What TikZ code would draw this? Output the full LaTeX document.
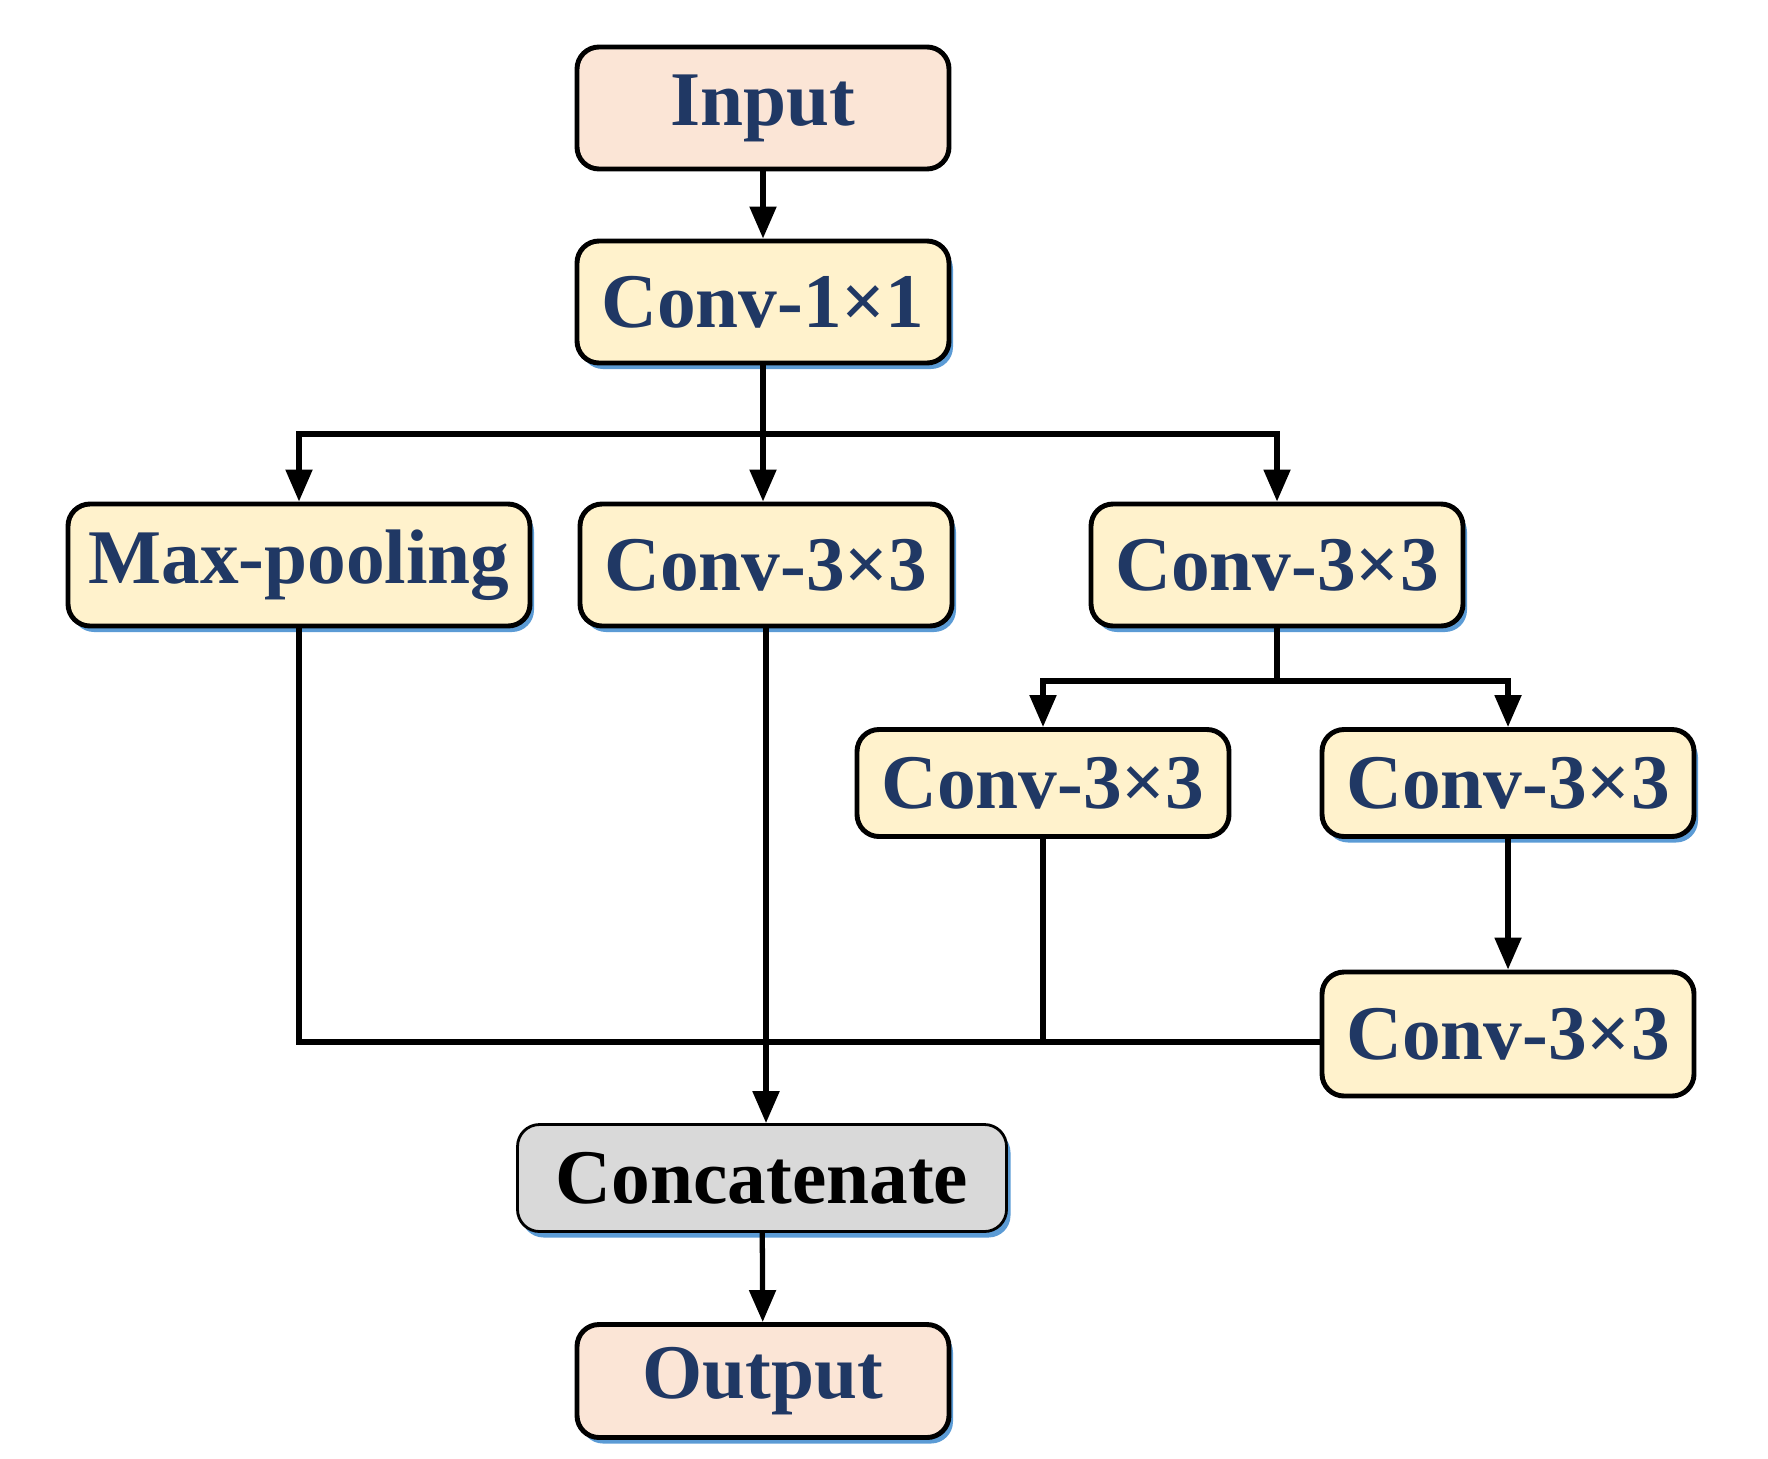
\documentclass[tikz,border=0pt]{standalone}
\usepackage{fontspec}
\setmainfont{Liberation Serif}
\usepackage{xcolor}
\usepackage{tikz}
\usetikzlibrary{arrows.meta,shadows}
\definecolor{txtblue}{HTML}{203864}
\definecolor{ioFill}{HTML}{FBE5D6}
\definecolor{convFill}{HTML}{FFF2CC}
\definecolor{catFill}{HTML}{D9D9D9}
\definecolor{shdBlue}{HTML}{5B9BD5}

\begin{document}
\begin{tikzpicture}[
      blk/.style={draw, line width=1.4pt, rounded corners=0.22cm, fill=convFill,
        minimum width=3.72cm, minimum height=1.22cm, text=txtblue,
        font=\fontsize{22}{26}\selectfont\bfseries},
      io/.style={blk, fill=ioFill},
      shd/.style={drop shadow={fill=shdBlue, opacity=1, shadow xshift=0.04cm, shadow yshift=-0.06cm}},
      link/.style={line width=1.5pt},
      >={Triangle[length=0.32cm,width=0.26cm]}]
    \useasboundingbox (0,0) rectangle (17.68,-14.58);
    % top part
    \node[io] (in) at (7.63,-1.08) {Input};
    \node[blk, shd] (c1) at (7.63,-3.02) {Conv-1×1};
    % three branches
    \node[blk, shd, minimum width=4.62cm] (mp) at (2.99,-5.65) {Max-pooling};
    \node[blk, shd] (c3m) at (7.66,-5.65) {Conv-3×3};
    \node[blk, shd] (c3r) at (12.77,-5.65) {Conv-3×3};
    \node[blk, minimum height=1.07cm] (c3s1) at (10.43,-7.83) {Conv-3×3};
    \node[blk, shd, minimum height=1.07cm] (c3s2) at (15.08,-7.83) {Conv-3×3};
    \node[blk, minimum height=1.24cm] (c3b) at (15.08,-10.34) {Conv-3×3};
    % merge
    \node[blk, shd, fill=catFill, text=black, line width=0.8pt,
      minimum width=4.89cm, minimum height=1.07cm] (cat) at (7.62,-11.78) {Concatenate};
    \node[io, shd, minimum height=1.13cm] (out) at (7.63,-13.81) {Output};
    \coordinate (sp1) at (7.66,-4.34);
    \coordinate (sp2) at (12.77,-6.81);
    \coordinate (mg) at ([yshift=-0.08cm]c3b.west);
    \draw[link,->] (in) -- (c1);
    \draw[link,->] (c1.south) -- (c1.south |- c3m.north);
    \draw[link,->] (sp1) -| (mp.north);
    \draw[link,->] (sp1) -| (c3r.north);
    \draw[link] (c3r.south) -- (sp2);
    \draw[link,->] (sp2) -| (c3s1.north);
    \draw[link,->] (sp2) -| (c3s2.north);
    \draw[link,->] (c3s2) -- (c3b);
    \draw[link] (mp.south) |- (mg);
    \draw[link] (c3s1.south) -- (c3s1.south |- mg);
    \draw[link,->] (c3m.south) -- (c3m.south |- cat.north);
    \draw[link,->] (cat) -- (out);
  \end{tikzpicture}
\end{document}
